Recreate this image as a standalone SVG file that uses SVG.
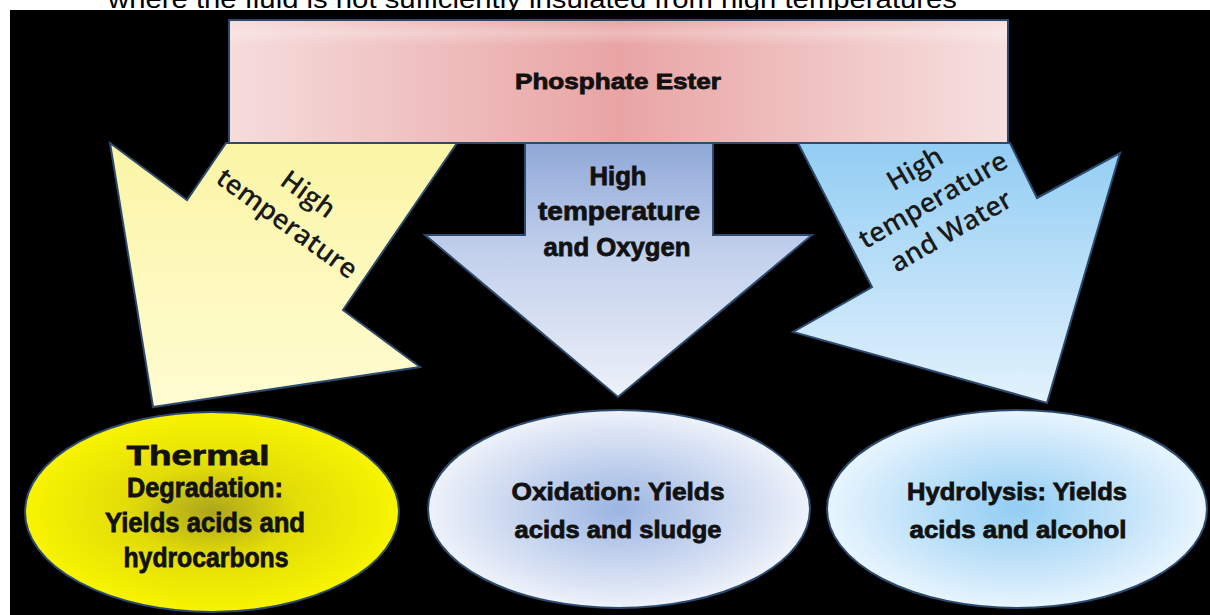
<svg xmlns="http://www.w3.org/2000/svg" width="1210" height="615" viewBox="0 0 1210 615">
  <defs>
    <linearGradient id="gPink" x1="0" y1="0" x2="1" y2="0">
      <stop offset="0" stop-color="#f6dcdc"/>
      <stop offset="0.5" stop-color="#e9a4a4"/>
      <stop offset="1" stop-color="#f6e0df"/>
    </linearGradient>
    <linearGradient id="gPinkHi" x1="0" y1="0" x2="0" y2="1">
      <stop offset="0" stop-color="#ffffff" stop-opacity="0"/>
      <stop offset="0.1" stop-color="#ffffff" stop-opacity="0.25"/>
      <stop offset="0.2" stop-color="#ffffff" stop-opacity="0"/>
      <stop offset="1" stop-color="#ffffff" stop-opacity="0"/>
    </linearGradient>
    <linearGradient id="gYellowArrow" x1="0" y1="0" x2="0" y2="1">
      <stop offset="0" stop-color="#fbf5a6"/>
      <stop offset="1" stop-color="#fffcd2"/>
    </linearGradient>
    <linearGradient id="gMidArrow" x1="0" y1="0" x2="0" y2="1">
      <stop offset="0" stop-color="#8fa7d7"/>
      <stop offset="0.45" stop-color="#c3d1ec"/>
      <stop offset="1" stop-color="#edf1f9"/>
    </linearGradient>
    <linearGradient id="gRightArrow" x1="0" y1="0" x2="0" y2="1">
      <stop offset="0" stop-color="#92cdf3"/>
      <stop offset="1" stop-color="#e3f2fd"/>
    </linearGradient>
    <radialGradient id="gYellowEll" cx="0.5" cy="0.5" r="0.5">
      <stop offset="0" stop-color="#aca51c"/>
      <stop offset="0.45" stop-color="#e2dc08"/>
      <stop offset="1" stop-color="#f8f400"/>
    </radialGradient>
    <radialGradient id="gMidEll" cx="0.5" cy="0.5" r="0.5">
      <stop offset="0" stop-color="#9bb5e2"/>
      <stop offset="0.6" stop-color="#ccd9f0"/>
      <stop offset="1" stop-color="#eef2fa"/>
    </radialGradient>
    <radialGradient id="gRightEll" cx="0.5" cy="0.5" r="0.5">
      <stop offset="0" stop-color="#92cdf3"/>
      <stop offset="0.6" stop-color="#c4e4f9"/>
      <stop offset="1" stop-color="#e8f5fe"/>
    </radialGradient>
  </defs>
  <style>
    .edge { stroke: #2c4a6e; stroke-width: 2; stroke-linejoin: miter; }
    .heavy { font-family: "Liberation Sans", Arial, sans-serif; font-weight: bold; fill: #111111; stroke: #111111; stroke-width: 0.8; text-anchor: middle; }
    .rot { font-family: "Open Sans", "Liberation Sans", sans-serif; font-weight: 600; font-size: 27px; fill: #1a1a1a; text-anchor: middle; }
    .caption { font-family: "Liberation Sans", Arial, sans-serif; font-size: 26px; fill: #000000; }
  </style>

  <rect x="0" y="0" width="1210" height="615" fill="#ffffff"/>
  <text class="caption" x="108" y="7.5" textLength="849" lengthAdjust="spacingAndGlyphs">where the fluid is not sufficiently insulated from high temperatures</text>
  <rect x="10" y="10" width="1200" height="605" fill="#000000"/>

  <g id="connectors">
    <g id="arrow-left">
      <polygon class="edge" fill="url(#gYellowArrow)" points="153,407 110,143 187,200 226,143 457,143 343,310 420,367"/>
      <g transform="translate(297.5,209) rotate(36)">
        <text class="rot" x="0" y="-9">High</text>
        <text class="rot" x="0" y="27">temperature</text>
      </g>
    </g>
    <g id="arrow-middle">
      <polygon class="edge" fill="url(#gMidArrow)" points="525,140 713,140 713,235 812,235 618,397 425,235 525,235"/>
      <text class="heavy" x="618" y="185" font-size="25" textLength="57" lengthAdjust="spacingAndGlyphs">High</text>
      <text class="heavy" x="619" y="220" font-size="25" textLength="162" lengthAdjust="spacingAndGlyphs">temperature</text>
      <text class="heavy" x="617" y="256" font-size="25" textLength="147" lengthAdjust="spacingAndGlyphs">and Oxygen</text>
    </g>
    <g id="arrow-right">
      <polygon class="edge" fill="url(#gRightArrow)" points="798,143 872,287 793,332 1047,403 1120,153 1037,198 1010,143"/>
      <g transform="translate(933,200) rotate(-30)">
        <text class="rot" x="0" y="-27">High</text>
        <text class="rot" x="0" y="9">temperature</text>
        <text class="rot" x="0" y="45">and Water</text>
      </g>
    </g>
  </g>

  <g id="node-phosphate-ester">
    <rect class="edge" x="229" y="20" width="779" height="123" fill="url(#gPink)"/>
    <rect x="230" y="21" width="777" height="121" fill="url(#gPinkHi)"/>
    <text class="heavy" x="618" y="89" font-size="22" textLength="206" lengthAdjust="spacingAndGlyphs">Phosphate Ester</text>
  </g>

  <g id="node-thermal">
    <ellipse class="edge" cx="212" cy="512" rx="187" ry="100" fill="url(#gYellowEll)"/>
    <text class="heavy" x="198" y="465" font-size="28" textLength="143" lengthAdjust="spacingAndGlyphs">Thermal</text>
    <text class="heavy" x="205" y="497" font-size="28" textLength="156" lengthAdjust="spacingAndGlyphs">Degradation:</text>
    <text class="heavy" x="205" y="532" font-size="28" textLength="200" lengthAdjust="spacingAndGlyphs">Yields acids and</text>
    <text class="heavy" x="206" y="567" font-size="28" textLength="165" lengthAdjust="spacingAndGlyphs">hydrocarbons</text>
  </g>

  <g id="node-oxidation">
    <ellipse class="edge" cx="619" cy="509" rx="191" ry="99" fill="url(#gMidEll)"/>
    <text class="heavy" x="618" y="500" font-size="24" textLength="213" lengthAdjust="spacingAndGlyphs">Oxidation: Yields</text>
    <text class="heavy" x="618" y="538" font-size="24" textLength="207" lengthAdjust="spacingAndGlyphs">acids and sludge</text>
  </g>

  <g id="node-hydrolysis">
    <ellipse class="edge" cx="1017" cy="509" rx="190" ry="99" fill="url(#gRightEll)"/>
    <text class="heavy" x="1017" y="500" font-size="24" textLength="220" lengthAdjust="spacingAndGlyphs">Hydrolysis: Yields</text>
    <text class="heavy" x="1018" y="538" font-size="24" textLength="217" lengthAdjust="spacingAndGlyphs">acids and alcohol</text>
  </g>
</svg>
